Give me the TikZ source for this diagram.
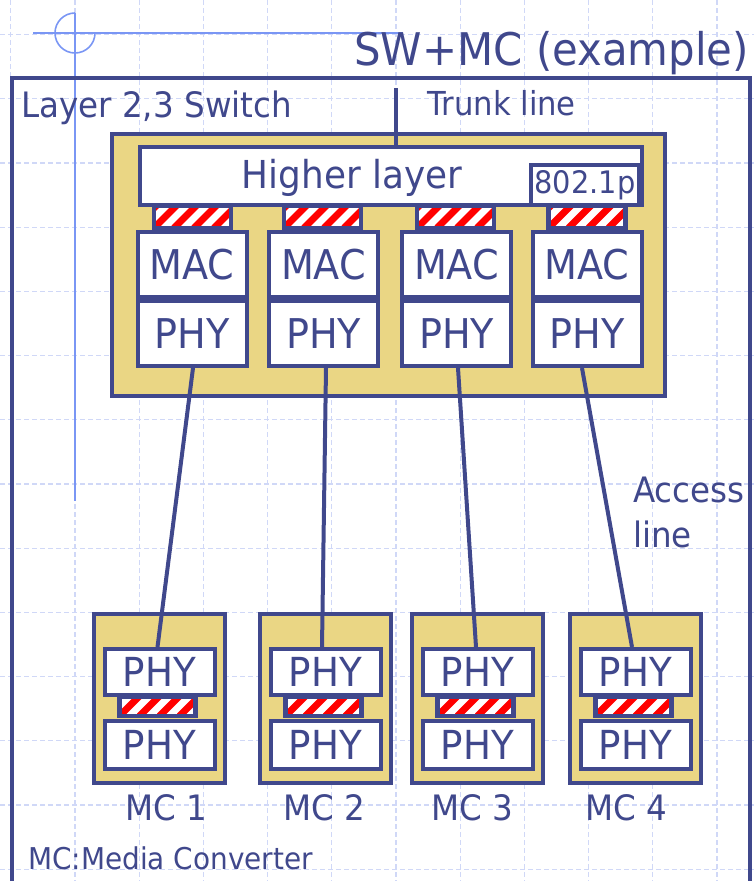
\documentclass[tikz,border=0pt]{standalone}
\usepackage{fontspec}
\setmainfont{DejaVu Sans}[FakeStretch=0.93]
\definecolor{navy}{RGB}{64,72,140}
\definecolor{tan}{RGB}{234,214,132}
\definecolor{gridblue}{RGB}{208,216,247}
\definecolor{guideblue}{RGB}{122,150,244}
\begin{document}
\begin{tikzpicture}[
  x=1pt,y=-1pt,
  gridline/.style={gridblue, line width=1.2pt, dash pattern=on 5pt off 3pt},
  guide/.style={guideblue, line width=1.6pt},
  frame/.style={draw=navy, line width=4pt},
  swbox/.style={draw=navy, fill=tan, line width=4pt, inner sep=0pt},
  unitbox/.style={draw=navy, fill=white, line width=4pt, inner sep=0pt, text=navy, font=\fontsize{41}{41}\selectfont},
  hatchbox/.style={draw=navy, fill=white, line width=4.5pt, inner sep=0pt,
    path picture={\foreach \k in {-2,...,5}{\draw[red, line width=7pt] ([xshift=\k*20pt]path picture bounding box.south west) -- ++(45,-45);}}},
  wire/.style={navy, line width=4pt},
  lab/.style={text=navy, inner sep=0pt}
]
\useasboundingbox (0,0) rectangle (754,881);

\foreach \k in {0,...,11}{
  \draw[gridline] ({10.8+64.2*\k},0) -- ({10.8+64.2*\k},881);
}
\foreach \k in {0,...,13}{
  \draw[gridline] (0,{34.5+64.2*\k}) -- (754,{34.5+64.2*\k});
}

\draw[guide] (33,33) -- (403,33);
\draw[guide] (75,13) -- (75,501);
\draw[guide] (75,13) arc[start angle=90, end angle=360, radius=20pt];

\draw[frame] (12,78) rectangle (750,905);

\node[lab, anchor=base east, font=\fontsize{45}{45}\selectfont] (title) at (749,65) {SW+MC (example)};
\node[lab, anchor=base west, font=\fontsize{35}{35}\selectfont] (switchlab) at (21,117) {Layer 2,3 Switch};
\node[lab, anchor=base west, font=\fontsize{33}{33}\selectfont] (trunklab) at (427,115) {Trunk line};

\node[swbox, minimum width=553pt, minimum height=262pt] (switch) at (388.5,265) {};
\node[unitbox, minimum width=502pt, minimum height=58pt] (higher) at (391,176) {};
\node[lab, anchor=base, font=\fontsize{38.5}{38.5}\selectfont] (hltext) at (352,188) {Higher layer};
\node[unitbox, font=\fontsize{31}{31}\selectfont, minimum width=108pt, minimum height=40pt] (dotp) at (585,185) {802.1p};

\coordinate (trunk) at (396,88);
\draw[wire] (trunk) -- (trunk |- higher.north);

\foreach \i/\x in {1/192,2/323.5,3/456.5,4/587}{
  \node[unitbox, minimum width=109pt, minimum height=65pt] (mac\i) at (\x,264.5) {MAC};
  \node[unitbox, minimum width=109pt, minimum height=65pt] (phy\i) at (\x,333.5) {PHY};
}
\foreach \i/\x in {1/192.5,2/322.5,3/455.5,4/587}{
  \node[hatchbox, minimum width=77pt, minimum height=22pt] (port\i) at (\x,217) {};
}

\foreach \i/\x in {1/159.5,2/325.5,3/477.5,4/635.5}{
  \node[swbox, minimum width=131pt, minimum height=169pt] (mc\i) at (\x,698.5) {};
  \node[unitbox, font=\fontsize{40}{40}\selectfont, minimum width=110pt, minimum height=46pt] (mcup\i) at (\x,672) {PHY};
  \node[unitbox, font=\fontsize{40}{40}\selectfont, minimum width=110pt, minimum height=48pt] (mclow\i) at (\x,745) {PHY};
  \node[hatchbox, minimum width=76pt, minimum height=19pt] (mcport\i) at ({\x-2},706.5) {};
}
\foreach \i/\x in {1/166,2/324,3/472,4/626}{
  \node[lab, anchor=base, font=\fontsize{35}{35}\selectfont] (mclab\i) at (\x,820) {MC \i};
}

\foreach \i/\a/\b in {1/1/-2,2/2.5/-3.5,3/1.5/-1.5,4/-5/-3.5}{
  \draw[wire] ([xshift=\a pt]phy\i.south) -- ([xshift=\b pt]mcup\i.north);
}

\node[lab, anchor=north west, align=left, font=\fontsize{35}{45}\selectfont] (access) at (633,477) {Access\\line};
\node[lab, anchor=base west, font=\fontsize{30}{30}\selectfont] (mcnote) at (28,869) {MC:Media Converter};

\end{tikzpicture}
\end{document}
